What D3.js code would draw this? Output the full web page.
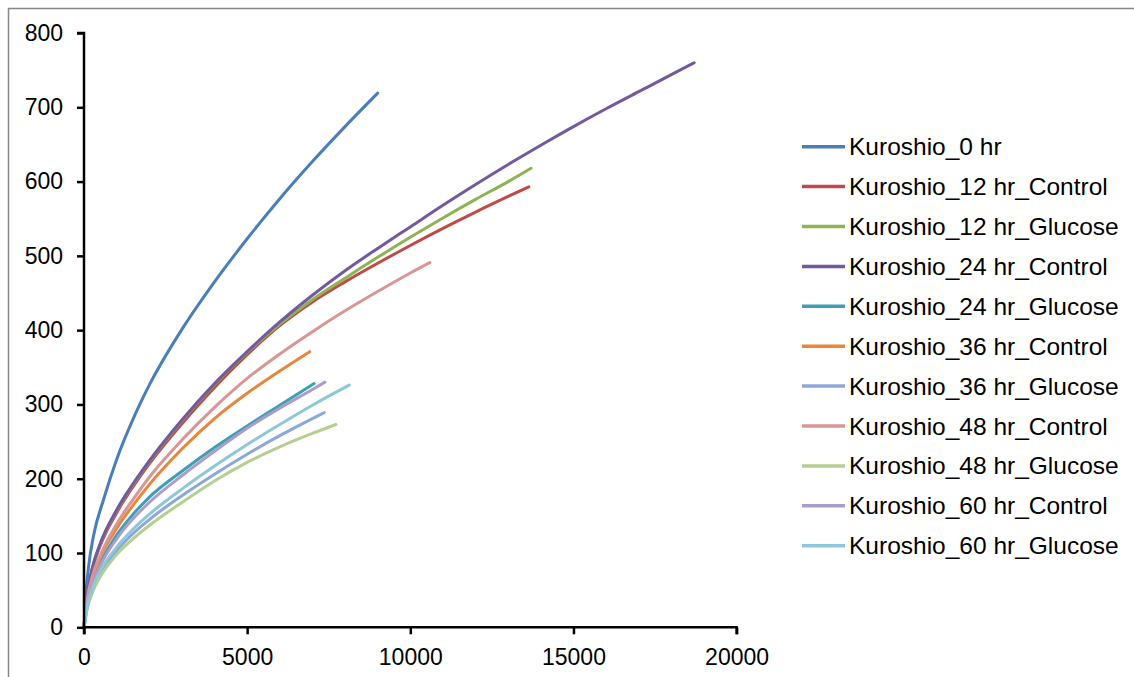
<!DOCTYPE html>
<html>
<head>
<meta charset="utf-8">
<script src="https://cdn.jsdelivr.net/npm/d3@7"></script>
<style>
  body { margin: 0; background: #fff; }
  svg text { font-family: "Liberation Sans", Arial, sans-serif; fill: #000; }
</style>
</head>
<body>
<svg id="chart" width="1134" height="677"></svg>
<script>
// rarefaction data: [reads sampled, OTUs observed]
var hr0 = [[0,0],[50,40],[150,85],[300,125],[600,172],[1000,226],[1500,280],[2000,326],[3000,401],[4000,465],[5000,523],[6000,577],[7000,627],[8000,674],[9000,719]];
var hr12Control = [[0,0],[100,43],[250,77],[500,110],[1000,154],[1500,189],[2000,220],[3000,274],[4000,323],[5000,367],[6000,406],[7000,438],[8000,465],[9000,490],[10000,514],[11000,537],[12000,559],[13000,580],[13633,593]];
var hr12Glucose = [[0,0],[100,44],[250,78],[500,112],[1000,157],[1500,192],[2000,223],[3000,278],[4000,327],[5000,370],[6000,408],[7000,441],[8000,470],[9000,498],[10000,525],[11000,551],[12000,576],[13000,600],[13700,618]];
var hr24Control = [[0,0],[100,44],[250,79],[500,113],[1000,158],[1500,193],[2000,224],[3000,279],[4000,328],[5000,371],[6000,411],[7000,447],[8000,480],[9000,510],[10000,539],[11000,568],[12000,596],[13000,623],[14000,649],[15000,674],[16000,698],[17000,721],[18000,744],[18700,760]];
var hr24Glucose = [[0,0],[100,33],[250,60],[500,86],[1000,124],[1500,152],[2000,175],[3000,210],[4000,242],[5000,271],[6000,299],[7050,328]];
var hr36Control = [[0,0],[100,36],[250,65],[500,94],[1000,133],[1500,164],[2000,192],[3000,240],[4000,281],[5000,315],[6000,345],[6920,371]];
var hr36Glucose = [[0,0],[100,27],[250,49],[500,72],[1000,103],[1500,126],[2000,145],[3000,177],[4000,206],[5000,233],[6000,258],[7000,281],[7362,289]];
var hr48Control = [[0,0],[100,38],[250,68],[500,97],[1000,139],[1500,172],[2000,202],[3000,252],[4000,296],[5000,335],[6000,368],[7000,398],[8000,426],[9000,452],[10000,477],[10600,491]];
var hr48Glucose = [[0,0],[100,25],[250,46],[500,68],[1000,98],[1500,119],[2000,137],[3000,168],[4000,197],[5000,222],[6000,243],[7000,261],[7721,273]];
var hr60Control = [[0,0],[100,31],[250,57],[500,83],[1000,119],[1500,146],[2000,168],[3000,204],[4000,237],[5000,268],[6000,295],[7000,320],[7384,330]];
var hr60Glucose = [[0,0],[100,28],[250,52],[500,76],[1000,108],[1500,132],[2000,152],[3000,186],[4000,217],[5000,246],[6000,273],[7000,299],[8129,326]];

var seriesNames = ["Kuroshio_0 hr", "Kuroshio_12 hr_Control", "Kuroshio_12 hr_Glucose",
  "Kuroshio_24 hr_Control", "Kuroshio_24 hr_Glucose", "Kuroshio_36 hr_Control",
  "Kuroshio_36 hr_Glucose", "Kuroshio_48 hr_Control", "Kuroshio_48 hr_Glucose",
  "Kuroshio_60 hr_Control", "Kuroshio_60 hr_Glucose"];
var seriesValues = [hr0, hr12Control, hr12Glucose, hr24Control, hr24Glucose, hr36Control,
  hr36Glucose, hr48Control, hr48Glucose, hr60Control, hr60Glucose];
var seriesColors = ["#4a7ebb", "#be4b48", "#8cb453", "#735a9f", "#3d9fb6", "#e8863c",
  "#8ca8d8", "#d99694", "#b5cf91", "#ab9dc8", "#8fc7da"];

var xTicks = [0, 5000, 10000, 15000, 20000];
var yTicks = [0, 100, 200, 300, 400, 500, 600, 700, 800];

var svg = d3.select("#chart");

// outer frame (runs off the right and bottom edges)
svg.append("rect")
  .attr("x", 8.5).attr("y", 8.5)
  .attr("width", 1200).attr("height", 800)
  .attr("fill", "none")
  .attr("stroke", "#878787")
  .attr("stroke-width", 1.5);

var x = d3.scaleLinear().domain([0, 20000]).range([84, 736.6]);
var y = d3.scaleLinear().domain([0, 800]).range([627.3, 33]);

var line = d3.line()
  .x(function(d) { return x(d[0]); })
  .y(function(d) { return y(d[1]); })
  .curve(d3.curveMonotoneX);

var plot = svg.append("g");

plot.selectAll(".series")
  .data(seriesValues)
  .enter().append("path")
  .attr("class", "series")
  .attr("d", line)
  .attr("fill", "none")
  .attr("stroke", function(d, i) { return seriesColors[i]; })
  .attr("stroke-width", 3)
  .attr("stroke-linecap", "round")
  .attr("stroke-linejoin", "round");

// axes
var xAxis = svg.append("g")
  .attr("transform", "translate(0," + y(0) + ")")
  .call(d3.axisBottom(x).tickValues(xTicks).tickSize(7).tickPadding(14).tickFormat(d3.format("d")));

var yAxis = svg.append("g")
  .attr("transform", "translate(" + x(0) + ",0)")
  .call(d3.axisLeft(y).tickValues(yTicks).tickSize(7).tickPadding(14).tickFormat(d3.format("d")));

[xAxis, yAxis].forEach(function(ax) {
  ax.select(".domain").attr("stroke", "#000").attr("stroke-width", 2.5);
  ax.selectAll(".tick line").attr("stroke", "#000").attr("stroke-width", 2.5);
  ax.selectAll(".tick text").attr("font-size", 23).attr("fill", "#000")
    .style("font-family", "'Liberation Sans', Arial, sans-serif");
});
// keep the axis ends square like the reference
xAxis.select(".domain").attr("d", "M" + x(0) + ",7V0H" + x(20000) + "V7");
yAxis.select(".domain").attr("d", "M-7," + y(800) + "H0V" + y(0));

// legend
var legend = svg.append("g").attr("transform", "translate(802,146.7)");
var rows = legend.selectAll(".row")
  .data(seriesNames)
  .enter().append("g")
  .attr("class", "row")
  .attr("transform", function(d, i) { return "translate(0," + (i * 39.9) + ")"; });

rows.append("line")
  .attr("x1", 0).attr("x2", 43)
  .attr("stroke", function(d, i) { return seriesColors[i]; })
  .attr("stroke-width", 3.5);

rows.append("text")
  .attr("x", 47)
  .attr("dy", "0.35em")
  .attr("font-size", 24.5)
  .text(function(d) { return d; });
</script>
</body>
</html>
